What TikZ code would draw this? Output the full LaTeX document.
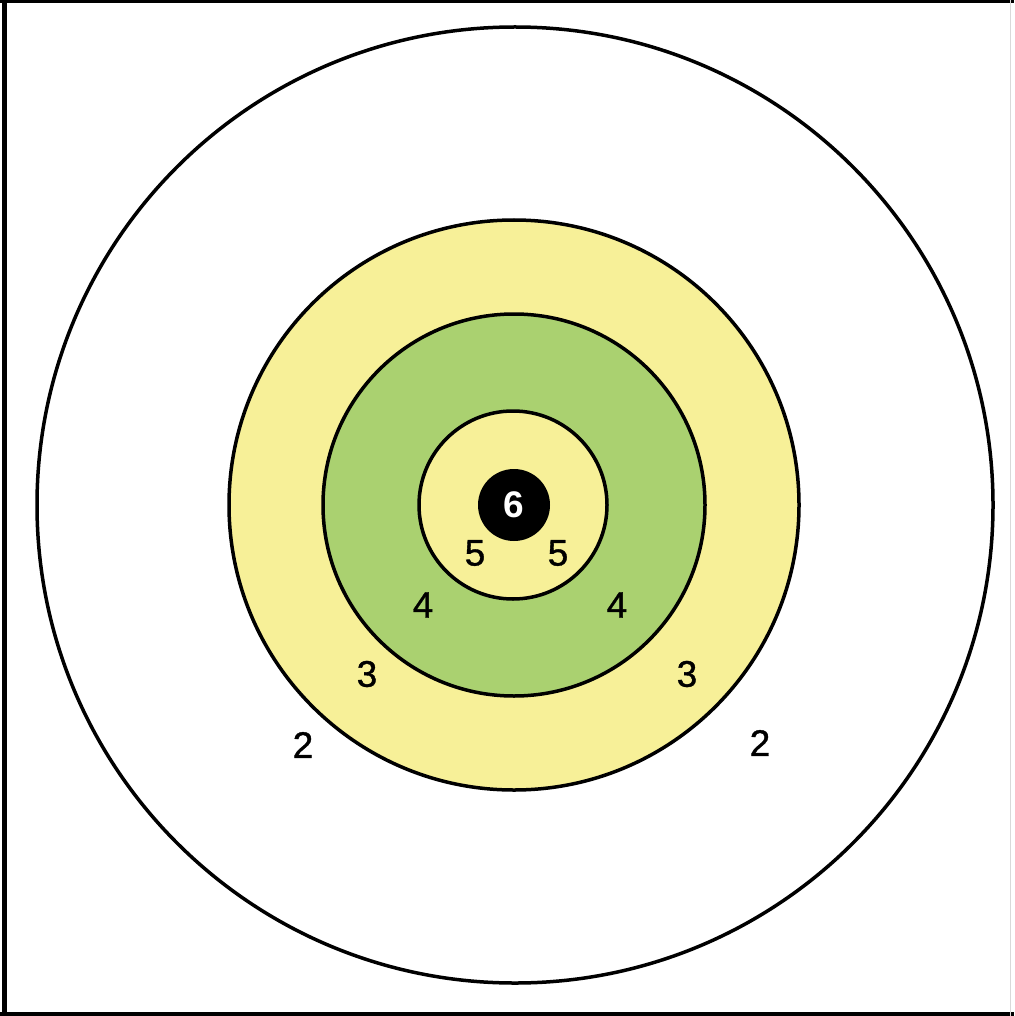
\documentclass[tikz,border=0pt]{standalone}
\usepackage{fontspec}
\setmainfont{Liberation Sans}
\newfontfamily\labfont{Liberation Sans}[FakeBold=1.0]
\definecolor{ringyellow}{RGB}{247,240,152}
\definecolor{ringgreen}{RGB}{170,209,112}
\tikzset{
  ring/.style={circle, draw=black, line width=3.5pt, inner sep=0pt},
  lab/.style={font=\labfont\fontsize{37}{37}\selectfont, inner sep=0pt}
}
\begin{document}
\begin{tikzpicture}[x=1pt,y=-1pt]
\useasboundingbox (0,0) rectangle (1014,1016);
\fill[white] (0,0) rectangle (1014,1016);
% frame
\draw[line width=5pt] (4.5,0) -- (4.5,1013.5);
\draw[line width=3.5pt] (0,1.5) -- (1014,1.5);
\draw[line width=4pt] (0,1013.5) -- (1014,1013.5);
\draw[line width=1.5pt, black!15] (1010.5,0) -- (1010.5,1016);
% rings
\node[ring, fill=white, minimum size=956pt] (r2) at (515,505) {};
\node[ring, fill=ringyellow, minimum size=570pt] (r3) at (514,505) {};
\node[ring, fill=ringgreen, minimum size=382pt] (r4) at (514,505) {};
\node[ring, fill=ringyellow, minimum size=188pt] (r5) at (513,505) {};
\node[circle, fill=black, inner sep=0pt, minimum size=72pt] (r6) at (514,505) {};
% labels
\node[lab, text=white, font=\fontsize{37}{37}\selectfont\bfseries] (l6) at (r6) {6};
\node[lab] (l5a) at (475,553) {5};
\node[lab] (l5b) at (558,553) {5};
\node[lab] (l4a) at (423,605) {4};
\node[lab] (l4b) at (617,605) {4};
\node[lab] (l3a) at (367,674) {3};
\node[lab] (l3b) at (687,674) {3};
\node[lab] (l2a) at (303,745) {2};
\node[lab] (l2b) at (760,743) {2};
\end{tikzpicture}
\end{document}
